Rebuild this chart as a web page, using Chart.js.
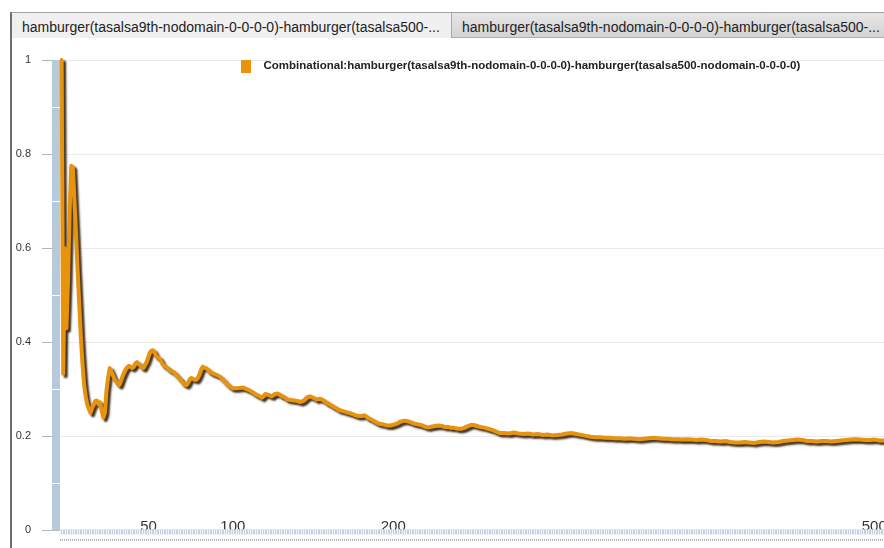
<!DOCTYPE html>
<html>
<head>
<meta charset="utf-8">
<script src="https://cdn.jsdelivr.net/npm/chart.js@4.4.1/dist/chart.umd.min.js"></script>
<style>
  html, body { margin: 0; padding: 0; width: 884px; height: 548px; overflow: hidden; background: #fff;
               font-family: "Liberation Sans", Arial, sans-serif; }
  #frame { position: absolute; left: 10px; top: 12px; width: 880px; height: 540px;
           border-left: 2px solid #6e6e6e; border-top: 1px solid #a0a0a0; }
  .tab { position: absolute; top: 13px; height: 25px; line-height: 28px; font-size: 14px; color: #222;
         white-space: nowrap; overflow: hidden; padding-left: 10px; box-sizing: border-box; }
  #tab1 { left: 12px; width: 440px; background: #f0f0f0; border-right: 1px solid #a8a8a8; }
  #tab2 { left: 452px; width: 440px; background: linear-gradient(#e6e6e6, #d3d3d3);
          border-bottom: 1px solid #b0b0b0; }
  #chart { position: absolute; left: 12px; top: 40px; }
</style>
</head>
<body>
<div id="frame"></div>
<div class="tab" id="tab1">hamburger(tasalsa9th-nodomain-0-0-0-0)-hamburger(tasalsa500-...</div>
<div class="tab" id="tab2">hamburger(tasalsa9th-nodomain-0-0-0-0)-hamburger(tasalsa500-...</div>
<canvas id="chart" width="962" height="508"></canvas>
<script>
// Series name shown in the legend
const seriesLabel = 'Combinational:hamburger(tasalsa9th-nodomain-0-0-0-0)-hamburger(tasalsa500-nodomain-0-0-0-0)';

// Step index of each sample
const steps = [
  1,2,3,4,5,6,7,8,9,10,11,12,13,14,15,16,17,18,19,20,
  21,22,23,24,25,26,27,28,29,30,31,32,33,34,35,36,37,38,39,40,
  41,42,43,44,45,46,47,48,49,50,51,52,53,54,55,56,57,58,59,60,
  61,62,63,64,65,66,67,68,69,70,71,72,73,74,75,76,77,78,79,80,
  81,82,83,84,85,86,87,88,89,90,91,92,93,94,95,96,97,98,99,100,
  101,102,103,104,105,106,107,108,
  110,112,114,116,118,120,122,124,126,128,
  130,132,134,136,138,140,142,144,146,148,
  150,152,154,156,158,160,162,164,166,168,
  170,172,174,176,178,180,182,184,186,188,
  190,192,194,196,198,200,202,204,206,208,
  210,212,214,216,218,220,222,224,226,228,
  230,232,234,236,238,240,242,244,246,248,
  250,252,254,256,258,260,262,264,266,268,
  270,272,274,
  277,280,283,286,289,292,295,298,301,304,
  307,310,313,316,319,322,325,328,331,334,
  337,340,343,346,349,352,355,358,361,364,
  367,370,373,376,379,382,385,388,391,394,
  397,400,403,406,409,412,415,418,421,424,
  427,430,433,436,439,442,445,448,451,454,
  457,460,463,466,469,472,475,478,481,484,
  487,490,493,496,499,502,505,508,511,514,517
];

// Combinational score at each step
const scores = [
  1.0,0.333,0.6,0.43,0.53,0.68,0.775,0.772,0.70,0.63,
  0.55,0.48,0.41,0.355,0.31,0.285,0.268,0.258,0.25,0.26,
  0.268,0.275,0.276,0.268,0.272,0.255,0.24,0.25,0.298,0.325,
  0.345,0.338,0.33,0.322,0.316,0.312,0.309,0.318,0.328,0.336,
  0.343,0.347,0.35,0.348,0.345,0.348,0.355,0.358,0.354,0.351,
  0.347,0.345,0.352,0.358,0.368,0.378,0.382,0.383,0.378,0.37,
  0.368,0.366,0.36,0.353,0.35,0.348,0.345,0.342,0.34,0.338,
  0.336,0.332,0.329,0.324,0.322,0.316,0.312,0.31,0.309,0.315,
  0.322,0.324,0.322,0.32,0.32,0.325,0.332,0.342,0.348,0.346,
  0.345,0.342,0.338,0.336,0.334,0.333,0.331,0.33,0.328,0.326,
  0.322,0.319,0.315,0.312,0.308,0.306,0.303,0.302,
  0.302,0.303,0.304,0.301,0.298,0.294,0.289,0.286,0.282,0.29,
  0.288,0.285,0.29,0.291,0.286,0.283,0.278,0.277,0.276,0.275,
  0.273,0.276,0.283,0.285,0.282,0.278,0.28,0.277,0.272,0.268,
  0.264,0.26,0.256,0.254,0.252,0.25,0.248,0.245,0.243,0.243,
  0.245,0.239,0.236,0.232,0.228,0.226,0.225,0.223,0.223,0.225,
  0.227,0.231,0.233,0.233,0.231,0.228,0.226,0.225,0.223,0.22,
  0.219,0.221,0.222,0.223,0.222,0.22,0.22,0.218,0.218,0.216,
  0.216,0.218,0.221,0.224,0.224,0.222,0.22,0.219,0.217,0.215,
  0.213,0.21,0.207,
  0.207,0.206,0.208,0.206,0.205,0.206,0.204,0.205,0.203,0.204,
  0.202,0.203,0.204,0.206,0.207,0.205,0.203,0.201,0.199,0.198,
  0.198,0.197,0.197,0.196,0.196,0.195,0.196,0.195,0.194,0.195,
  0.196,0.197,0.196,0.195,0.195,0.194,0.194,0.193,0.194,0.193,
  0.192,0.193,0.192,0.19,0.19,0.189,0.19,0.188,0.187,0.187,
  0.188,0.187,0.186,0.188,0.189,0.188,0.187,0.188,0.19,0.191,
  0.192,0.193,0.192,0.19,0.19,0.189,0.19,0.19,0.189,0.19,
  0.191,0.192,0.193,0.194,0.193,0.192,0.192,0.193,0.191,0.191,0.19
];

// Axis tick labels
const xTicks = [50, 100, 200, 500];
const yTicks = [0, 0.2, 0.4, 0.6, 0.8, 1];
const yMinorTicks = [0.1, 0.3, 0.5, 0.7, 0.9];

const LINE_COLOR = '#e8930d';
const FONT = '"Liberation Sans", Arial, sans-serif';

// Small orange marker used as the legend swatch
const swatch = document.createElement('canvas');
swatch.width = 10; swatch.height = 14;
(function () {
  const c = swatch.getContext('2d');
  c.fillStyle = LINE_COLOR;
  c.fillRect(0, 0, 10, 14);
})();

// Let the legend float over the top of the plot instead of reserving a band for it
const LEGEND_BAND = 20;
const floatingLegend = {
  id: 'floatingLegend',
  beforeLayout(chart) {
    const lg = chart.legend;
    if (lg && !lg.__floating) {
      const fit = lg.fit.bind(lg);
      lg.fit = function () { fit(); this.height = 0; };
      lg.__floating = true;
    }
  },
  afterLayout(chart) {
    const lg = chart.legend;
    if (lg) {
      lg.height = LEGEND_BAND;
      lg.bottom = lg.top + LEGEND_BAND;
    }
  }
};

// Dark drop shadow under the series line
const lineShadow = {
  id: 'lineShadow',
  beforeDatasetDraw(chart) {
    const ctx = chart.ctx;
    ctx.save();
    ctx.shadowColor = 'rgba(45,28,5,0.9)';
    ctx.shadowOffsetX = 2.5;
    ctx.shadowOffsetY = 2.5;
    ctx.shadowBlur = 2;
  },
  afterDatasetDraw(chart) {
    chart.ctx.restore();
  }
};

// Axis rails: blue bar along the value axis, striped rail and dotted rule under the step axis
const axisRails = {
  id: 'axisRails',
  beforeDatasetsDraw(chart) {
    const ctx = chart.ctx;
    const area = chart.chartArea;
    const y = chart.scales.y;
    const x = chart.scales.x;
    const top = y.getPixelForValue(1);
    const bottom = y.getPixelForValue(0);
    ctx.save();
    ctx.fillStyle = '#b7cadc';
    ctx.fillRect(area.left - 8, top, 8, bottom - top);
    ctx.fillStyle = '#ffffff';
    yMinorTicks.forEach(v => {
      const py = Math.round(y.getPixelForValue(v));
      ctx.fillRect(area.left - 8, py, 8, 1);
    });
    // striped rail
    ctx.fillStyle = '#c3d3e1';
    ctx.fillRect(area.left, bottom - 1, area.right - area.left, 5);
    ctx.fillStyle = 'rgba(255,255,255,0.75)';
    for (let v = 0; v <= x.max; v += 1.5) {
      const px = Math.round(x.getPixelForValue(v));
      ctx.fillRect(px, bottom - 1, 1, 5);
    }
    // dotted rule
    ctx.strokeStyle = '#666';
    ctx.lineWidth = 1;
    ctx.setLineDash([1, 1]);
    ctx.beginPath();
    ctx.moveTo(area.left, bottom + 9.5);
    ctx.lineTo(area.right, bottom + 9.5);
    ctx.stroke();
    ctx.restore();
  }
};

new Chart(document.getElementById('chart'), {
  type: 'line',
  data: {
    datasets: [{
      label: seriesLabel,
      data: steps.map((s, i) => ({ x: s, y: scores[i] })),
      borderColor: LINE_COLOR,
      backgroundColor: LINE_COLOR,
      borderWidth: 4,
      borderJoinStyle: 'round',
      borderCapStyle: 'round',
      pointRadius: 0,
      tension: 0,
      clip: 8
    }]
  },
  options: {
    responsive: false,
    animation: false,
    devicePixelRatio: 1,
    layout: { padding: { top: 20, left: 0, right: 0, bottom: 0 } },
    plugins: {
      tooltip: { enabled: false },
      legend: {
        position: 'top',
        fullSize: false,
        align: 'center',
        labels: {
          usePointStyle: true,
          pointStyle: swatch,
          pointStyleWidth: 24,
          padding: 0,
          color: '#222',
          font: { family: FONT, size: 11.5, weight: 'bold' }
        }
      }
    },
    scales: {
      x: {
        type: 'linear',
        min: 0,
        max: 570,
        afterBuildTicks(scale) { scale.ticks = xTicks.map(v => ({ value: v })); },
        afterFit(scale) { scale.height = 15; },
        grid: { display: false, drawTicks: false },
        border: { display: false },
        ticks: {
          mirror: true,
          align: 'start',
          padding: -5,
          maxRotation: 0,
          autoSkip: false,
          color: '#333',
          font: { family: FONT, size: 15 }
        }
      },
      y: {
        min: 0,
        max: 1,
        afterBuildTicks(scale) { scale.ticks = yTicks.map(v => ({ value: v })); },
        afterFit(scale) { scale.width = 48; },
        grid: { color: '#ebebeb', tickColor: '#b4b4b4', tickLength: 18, lineWidth: 1 },
        border: { display: false },
        ticks: {
          padding: 11,
          color: '#333',
          font: { family: FONT, size: 11 },
          callback: v => String(Math.round(v * 10) / 10)
        }
      }
    }
  },
  plugins: [floatingLegend, lineShadow, axisRails]
});
</script>
</body>
</html>
